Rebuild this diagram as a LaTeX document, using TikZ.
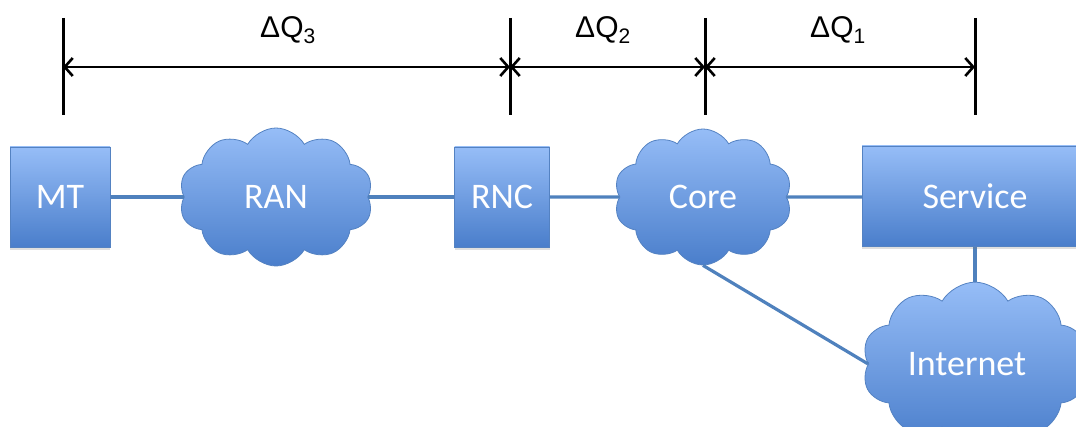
\documentclass[tikz,border=0pt]{standalone}
\usepackage{fontspec}
\setmainfont{Carlito}
\newfontfamily\arialf{Liberation Sans}
\usetikzlibrary{shapes.symbols,arrows.meta,shadows}
\definecolor{boxtop}{HTML}{96BDF7}
\definecolor{boxbot}{HTML}{4A7ECB}
\definecolor{boxedge}{HTML}{5482C2}
\definecolor{linkc}{HTML}{4F81BD}
\tikzset{
  netbox/.style={draw=boxedge, line width=0.8pt, top color=boxtop, bottom color=boxbot,
    text=white, font=\fontsize{36}{40}\selectfont, inner sep=0pt,
    drop shadow={opacity=0.25, shadow xshift=0pt, shadow yshift=-3pt}},
  netcloud/.style={cloud, cloud puffs=10, cloud puff arc=120, draw=boxedge, line width=0.8pt,
    top color=boxtop, bottom color=boxbot, text=white, font=\fontsize{36}{40}\selectfont,
    inner sep=0pt},
  link/.style={draw=linkc, line width=3.2pt},
  tick/.style={draw=black, line width=3pt},
  span/.style={draw=black, line width=2.6pt, {Straight Barb[length=8pt,width=18pt,line width=2.6pt]}-{Straight Barb[length=8pt,width=18pt,line width=2.6pt]}},
  dq/.style={font=\arialf\fontsize{30}{34}\selectfont, text=black}
}
\begin{document}
\begin{tikzpicture}[x=1pt,y=-1pt]
\useasboundingbox (0,0) rectangle (1076,427);
\clip (0,0) rectangle (1076,427);
% ticks
\foreach \n/\x in {1/63,2/510,3/705,4/975}{
  \coordinate (t\n) at (\x,18);
  \coordinate (b\n) at (\x,115);
  \coordinate (m\n) at (\x,67);
  \draw[tick] (t\n) -- (b\n);
}
\draw[span] (m1) -- (m2);
\draw[span] (m2) -- (m3);
\draw[span] (m3) -- (m4);
\node[dq] (q3) at (288,30) {ΔQ\textsubscript{3}};
\node[dq] (q2) at (603,30) {ΔQ\textsubscript{2}};
\node[dq] (q1) at (838,30) {ΔQ\textsubscript{1}};
% anchor points
\coordinate (mtc) at (60,197);
\coordinate (ranc) at (276,197);
\coordinate (rncc) at (502,197);
\coordinate (corec) at (703,197);
\coordinate (svcc) at (975,197);
\coordinate (intc) at (975,364);
% clouds
\node[netcloud, minimum width=194pt, minimum height=138pt] (RAN) at (ranc) {RAN};
\node[netcloud, minimum width=178pt, minimum height=136pt] (Core) at (corec) {Core};
\node[netcloud, minimum width=226pt, minimum height=128pt] (Internet) at (intc) {\hspace*{-16pt}Internet};
% links
\draw[link] (mtc) -- (RAN);
\draw[link] (RAN) -- (rncc);
\draw[link] (rncc) -- (Core);
\draw[link] (Core) -- (svcc);
\draw[link] (svcc) -- (Internet.north);
\draw[link] (Core.south) -- (Internet.west);
% boxes
\node[netbox, minimum width=100pt, minimum height=100pt] (MT) at (mtc) {MT};
\node[netbox, minimum width=95pt, minimum height=100pt] (RNC) at (rncc) {RNC};
\node[netbox, minimum width=226pt, minimum height=100pt] (Service) at (975,196) {Service};
\end{tikzpicture}
\end{document}
